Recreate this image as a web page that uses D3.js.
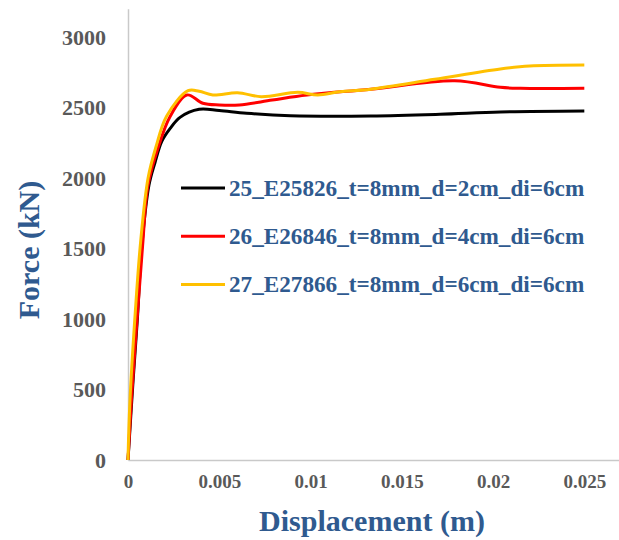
<!DOCTYPE html>
<html>
<head>
<meta charset="utf-8">
<script src="https://cdn.jsdelivr.net/npm/d3@7"></script>
<style>
  body { margin: 0; background: #fff; }
  svg { display: block; font-family: "Liberation Serif", "Times New Roman", serif; font-weight: bold; }
</style>
</head>
<body>
<div id="chart"></div>
<script>
// displacement (m) / force (kN)
const disp25  = [0, 0.00027, 0.00052, 0.00074, 0.00115, 0.00148, 0.00185, 0.0023, 0.00285, 0.0039, 0.005, 0.0065, 0.0089, 0.0133, 0.0171, 0.0204, 0.025];
const force25 = [0, 546, 1014, 1490, 1950, 2110, 2260, 2350, 2430, 2487, 2478, 2459, 2442, 2440, 2452, 2468, 2475];

const disp26  = [0, 0.0002, 0.0005, 0.0008, 0.0011, 0.00164, 0.0023, 0.00323, 0.0041, 0.005, 0.0061, 0.0079, 0.0098, 0.0133, 0.0179, 0.0204, 0.0215, 0.025];
const force26 = [0, 450, 1000, 1520, 1950, 2210, 2435, 2589, 2530, 2518, 2518, 2553, 2589, 2630, 2690, 2643, 2636, 2636];

const disp27  = [0, 0.0001, 0.0004, 0.0007, 0.0011, 0.00153, 0.00212, 0.00329, 0.0039, 0.00465, 0.006, 0.0073, 0.0093, 0.0104, 0.0116, 0.0133, 0.0168, 0.0204, 0.022, 0.025];
const force27 = [0, 400, 1050, 1560, 2000, 2220, 2440, 2619, 2615, 2589, 2605, 2577, 2608, 2589, 2612, 2630, 2700, 2773, 2794, 2801];

const seriesNames  = ["25_E25826_t=8mm_d=2cm_di=6cm", "26_E26846_t=8mm_d=4cm_di=6cm", "27_E27866_t=8mm_d=6cm_di=6cm"];
const seriesColors = ["#000000", "#FF0000", "#FFC000"];

const xTicks = [0, 0.005, 0.01, 0.015, 0.02, 0.025];
const xTickLabels = ["0", "0.005", "0.01", "0.015", "0.02", "0.025"];
const yTicks = [0, 500, 1000, 1500, 2000, 2500, 3000];
const yTickLabels = ["0", "500", "1000", "1500", "2000", "2500", "3000"];

const series = [
  { name: seriesNames[0], color: seriesColors[0], values: disp25.map((d, i) => ({ d: d, f: force25[i] })) },
  { name: seriesNames[1], color: seriesColors[1], values: disp26.map((d, i) => ({ d: d, f: force26[i] })) },
  { name: seriesNames[2], color: seriesColors[2], values: disp27.map((d, i) => ({ d: d, f: force27[i] })) }
];

const width = 619, height = 540;
const svg = d3.select("#chart").append("svg").attr("width", width).attr("height", height);

const x = d3.scaleLinear().domain([0, 0.0269]).range([128, 619]);
const y = d3.scaleLinear().domain([0, 3200]).range([460, 8.8]);

// axes
const gx = svg.append("g").attr("transform", "translate(0,460)")
  .call(d3.axisBottom(x).tickValues(xTicks).tickFormat((d, i) => xTickLabels[i]).tickSize(0).tickSizeOuter(0));
gx.attr("font-family", null).attr("font-size", null);
gx.select(".domain").attr("stroke", "#C9C9C9").attr("stroke-width", 1.5);
gx.selectAll("text").attr("dy", null).attr("y", 28).attr("fill", "#595959").attr("font-size", 19);

const gy = svg.append("g").attr("transform", "translate(128,0)")
  .call(d3.axisLeft(y).tickValues(yTicks).tickFormat((d, i) => yTickLabels[i]).tickSize(0).tickSizeOuter(0).tickPadding(22));
gy.attr("font-family", null).attr("font-size", null);
gy.select(".domain").attr("stroke", "#C9C9C9").attr("stroke-width", 1.5);
gy.selectAll("text").attr("fill", "#595959").attr("font-size", 22);

svg.selectAll(".tick line").remove();

// curves
const line = d3.line().x(p => x(p.d)).y(p => y(p.f)).curve(d3.curveCatmullRom.alpha(0.5));
svg.selectAll(".series")
  .data(series)
  .enter()
  .append("path")
  .attr("class", "series")
  .attr("fill", "none")
  .attr("stroke", s => s.color)
  .attr("stroke-width", 3)
  .attr("stroke-linejoin", "round")
  .attr("d", s => line(s.values));

// legend
const legend = svg.append("g").attr("transform", "translate(181,188)");
const item = legend.selectAll("g").data(series).enter().append("g")
  .attr("transform", (s, i) => "translate(0," + (i * 48.2) + ")");
item.append("line").attr("x1", 0).attr("x2", 44).attr("stroke", s => s.color).attr("stroke-width", 3);
item.append("text").attr("x", 48).attr("y", 8).attr("fill", "#2F5A8F").attr("font-size", 23.2).text(s => s.name);

// axis titles
svg.append("text").attr("x", 372).attr("y", 531).attr("text-anchor", "middle")
  .attr("fill", "#2F5A8F").attr("font-size", 30).text("Displacement (m)");
svg.append("text").attr("transform", "translate(39,250) rotate(-90)").attr("text-anchor", "middle")
  .attr("fill", "#2F5A8F").attr("font-size", 30).text("Force (kN)");
</script>
</body>
</html>
